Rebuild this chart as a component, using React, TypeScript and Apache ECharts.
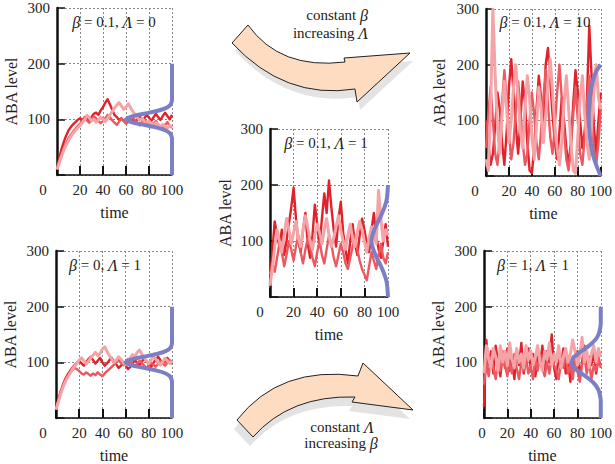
import React, { useEffect, useRef } from "react";
import * as echarts from "echarts";

const FONT = '"Liberation Serif", "DejaVu Serif", serif';
const RED_DARK = "#e2212a";
const RED_MID = "#ec5860";
const RED_LIGHT = "#f4a3a7";
const BLUE = "#7b7fc4";

const times = [0,2,4,6,8,10,12,14,16,18,20,22,24,26,28,30,32,34,36,38,40,42,44,46,48,50,52,54,56,58,60,62,64,66,68,70,72,74,76,78,80,82,84,86,88,90,92,94,96,98,100];
const xTicks = [0, 20, 40, 60, 80, 100];
const yTicks = [100, 200, 300];

// panel A: beta = 0.1, Lambda = 0
const aDark = [10,30,47,60,71,80,86,91,95,99,102,98,104,101,96,104,110,112,108,116,122,130,136,127,117,108,104,99,102,97,100,96,103,99,94,100,105,98,102,108,103,97,104,110,104,99,106,112,106,100,108];
const aMid = [10,24,37,49,58,66,72,78,83,88,92,97,103,98,94,99,105,102,97,93,97,102,108,104,98,94,90,96,101,97,92,95,100,104,98,93,89,94,99,95,90,86,92,97,91,87,84,90,95,88,85];
const aLight = [10,22,34,45,54,62,69,75,80,85,89,94,99,107,103,97,100,95,99,104,100,96,102,108,114,120,126,130,124,118,122,128,121,114,108,103,98,102,96,92,97,93,88,94,90,86,91,87,84,89,86];
const aBlue = [[100,0],[100,65],[99.5,70],[98.2,75],[94.6,80],[87,85],[75.7,90],[64.7,95],[60,100],[64.7,105],[75.7,110],[87,115],[94.6,120],[98.2,125],[99.5,130],[100,135],[100,200]];

// panel B: beta = 0.1, Lambda = 10
const bDark = [100,60,20,40,90,150,120,60,20,80,160,210,150,90,40,100,170,130,60,10,5,50,120,180,140,90,200,230,170,110,60,30,80,140,100,50,20,60,130,190,150,100,50,80,140,270,180,90,40,100,150];
const bMid = [50,110,160,100,40,20,70,130,190,140,80,30,60,120,170,120,60,20,40,100,150,110,60,30,80,140,190,130,70,40,90,150,200,140,80,30,10,50,110,160,100,40,20,70,130,180,110,50,20,60,120];
const bLight = [30,10,120,300,180,90,40,110,170,120,60,100,160,200,140,80,50,120,180,140,70,30,90,160,120,60,110,170,210,150,90,50,20,60,130,180,120,60,10,5,70,140,180,110,60,30,90,150,200,140,120];
const bBlue = [[100,0],[96,20],[93,40],[90.5,70],[89.5,110],[90.5,145],[93,170],[96,188],[100,200]];

// panel C: beta = 0.1, Lambda = 1
const cDark = [25,80,135,110,90,120,75,100,130,160,195,140,100,80,120,150,95,70,110,165,130,90,140,185,150,208,160,120,90,140,170,115,85,60,100,130,95,75,110,140,120,95,80,120,150,110,85,70,100,130,90];
const cMid = [40,60,45,70,95,80,55,75,100,85,65,90,110,80,60,85,105,90,70,55,80,100,75,60,85,110,95,70,55,75,95,80,60,50,70,90,110,85,65,50,40,30,55,80,65,50,75,95,70,60,80];
const cLight = [20,50,90,120,100,80,110,140,120,95,115,135,105,90,120,145,125,100,85,110,130,115,95,120,140,110,90,105,125,145,120,100,85,110,130,105,90,115,135,120,100,80,105,125,110,95,190,140,100,120,110];
const cBlue = [[100,0],[99,25],[97,40],[94,55],[90.5,70],[87.5,85],[86,100],[87.5,115],[90.5,130],[94,145],[97,160],[99,175],[100,200]];

// panel D: beta = 0, Lambda = 1
const dDark = [15,33,48,60,70,78,84,90,95,99,102,98,94,100,106,110,104,98,103,108,100,94,98,104,108,102,96,90,94,99,95,88,92,98,104,99,95,101,107,102,97,92,99,105,110,104,98,102,108,101,97];
const dMid = [15,30,45,57,66,74,80,86,90,88,84,80,78,82,79,76,80,77,82,78,75,80,84,88,92,96,100,104,99,95,100,106,102,97,93,98,103,99,94,90,95,100,96,92,97,102,98,94,99,104,100];
const dLight = [15,29,43,55,65,73,80,87,93,98,104,108,103,97,102,108,113,118,112,116,124,128,120,112,106,100,104,110,106,100,96,102,108,114,110,118,122,115,108,103,98,104,110,106,100,95,101,107,103,98,102];
const dBlue = [[100,0],[100,65],[99.5,70],[98.2,75],[94.6,80],[87,85],[75.7,90],[64.7,95],[60,100],[64.7,105],[75.7,110],[87,115],[94.6,120],[98.2,125],[99.5,130],[100,135],[100,200]];

// panel E: beta = 1, Lambda = 1
const eDark = [20,140,95,120,80,130,100,75,115,90,125,85,110,70,120,95,135,80,105,125,90,115,75,110,95,130,85,120,100,150,90,70,115,95,125,80,105,65,110,90,120,75,100,130,85,110,95,120,80,105,95];
const eMid = [60,100,75,110,90,70,105,85,120,95,75,100,80,115,90,70,100,85,110,80,95,70,105,85,115,90,75,100,80,110,95,85,70,100,90,115,80,95,70,105,85,65,95,110,80,100,70,95,85,110,90];
const eLight = [80,130,105,90,125,110,85,130,100,120,95,135,105,90,125,100,115,90,130,105,120,95,110,130,100,85,120,105,135,95,115,100,130,90,110,125,100,115,140,120,95,110,145,100,120,90,115,130,100,125,110];
const eBlue = [[100,0],[100,30],[99.4,40],[98.1,50],[95.2,60],[90.1,70],[83.5,80],[77.4,90],[75,100],[77.4,110],[83.5,120],[90.1,130],[95.2,140],[98.1,150],[99.4,160],[100,170],[100,200]];

const panelLabels = [
  "{i|β} = 0.1, {i|Λ} = 0",
  "{i|β} = 0.1, {i|Λ} = 10",
  "{i|β} = 0.1, {i|Λ} = 1",
  "{i|β} = 0, {i|Λ} = 1",
  "{i|β} = 1, {i|Λ} = 1",
];

const panels = [
  { grid: { left: 57, top: 8, width: 115, height: 167 }, reds: [aDark, aMid, aLight], blue: aBlue, zeroShift: 28, label: [114, 22], nameGap: 38 },
  { grid: { left: 486, top: 9, width: 115, height: 167 }, reds: [bDark, bMid, bLight], blue: bBlue, zeroShift: 22, label: [545, 22], nameGap: 39 },
  { grid: { left: 270, top: 129, width: 118, height: 168 }, reds: [cDark, cMid, cLight], blue: cBlue, zeroShift: 20, label: [326, 143], nameGap: 37 },
  { grid: { left: 56, top: 251, width: 116, height: 167 }, reds: [dDark, dMid, dLight], blue: dBlue, zeroShift: 26, label: [105, 265], nameGap: 38 },
  { grid: { left: 484, top: 251, width: 118, height: 167 }, reds: [eDark, eMid, eLight], blue: eBlue, zeroShift: 4, label: [533, 265], nameGap: 38 },
];

const ARROW_TOP = "M 248 25 Q 280 70 345 62 L 344 58 L 410 53 L 357 102 L 355 89 Q 285 100 232 43 Z";
const ARROW_BOTTOM = "M 237 420 Q 280 365 358 376 L 363 363 L 413 410 L 352 402 L 355 397 Q 290 395 253 437 Z";

export default function App() {
  const ref = useRef<HTMLDivElement>(null);
  useEffect(() => {
    document.body.style.margin = "0";
    if (!ref.current) return;
    echarts.graphic.registerShape("arrowTop", echarts.graphic.extendPath(ARROW_TOP, {}) as any);
    echarts.graphic.registerShape("arrowBottom", echarts.graphic.extendPath(ARROW_BOTTOM, {}) as any);
    const chart = echarts.init(ref.current, null, { renderer: "svg" });

    const textStyle = { fontFamily: FONT, fontSize: 15, color: "#222" };
    const redColors = [RED_DARK, RED_MID, RED_LIGHT];
    const redWidths = [2.4, 2.4, 3];

    const grid = panels.map((p) => ({ ...p.grid, containLabel: false }));
    const xAxis = panels.map((p, i) => ({
      gridIndex: i,
      type: "value",
      min: 0,
      max: 100,
      interval: 20,
      name: "time",
      nameLocation: "middle",
      nameGap: 29,
      nameTextStyle: { ...textStyle, fontSize: 16 },
      axisLine: { show: true, onZero: false, lineStyle: { color: "#111", width: 1.5 } },
      axisTick: { show: true, inside: true, length: 9, lineStyle: { color: "#111", width: 2 } },
      splitLine: { show: true, lineStyle: { type: [2, 2], color: "#888", width: 1 } },
      axisLabel: {
        ...textStyle,
        margin: 7,
        customValues: xTicks,
        formatter: (v: number) => (v === 0 ? "{z|0}" : String(v)),
        rich: { z: { ...textStyle, padding: [0, p.zeroShift, 0, 0] } },
      },
    }));
    const yAxis = panels.map((p, i) => ({
      gridIndex: i,
      type: "value",
      min: 0,
      max: 300,
      interval: 100,
      name: "ABA level",
      nameLocation: "middle",
      nameGap: p.nameGap,
      nameTextStyle: { ...textStyle, fontSize: 16 },
      axisLine: { show: true, onZero: false, lineStyle: { color: "#111", width: 2.5 } },
      axisTick: { show: true, inside: true, length: 8, lineStyle: { color: "#111", width: 1.5 } },
      splitLine: { show: true, lineStyle: { type: [2, 2], color: "#888", width: 1 } },
      axisLabel: {
        ...textStyle,
        margin: 7,
        formatter: (v: number) => (yTicks.includes(v) ? String(v) : ""),
      },
    }));

    const series: any[] = [];
    panels.forEach((p, i) => {
      p.reds.forEach((vals, k) => {
        series.push({
          type: "line",
          xAxisIndex: i,
          yAxisIndex: i,
          data: times.map((t, j) => [t, vals[j]]),
          showSymbol: false,
          symbol: "none",
          lineStyle: { color: redColors[k], width: redWidths[k], join: "round" },
          silent: true,
        });
      });
      series.push({
        type: "line",
        xAxisIndex: i,
        yAxisIndex: i,
        data: p.blue,
        symbol: "none",
        smooth: 0.3,
        clip: false,
        lineStyle: { color: BLUE, width: 4 },
        silent: true,
        z: 5,
      });
    });

    const italic = { i: { fontFamily: FONT, fontSize: 16, fontStyle: "italic", fill: "#222" } };
    const graphic: any[] = [
      { type: "arrowTop", x: 3, y: 8, style: { fill: "#e3e3e3" }, z: 0 },
      { type: "arrowTop", x: 0, y: 0, style: { fill: "#fddcc1", stroke: "#222", lineWidth: 1 }, z: 1 },
      { type: "arrowBottom", x: -3, y: 9, style: { fill: "#e3e3e3" }, z: 0 },
      { type: "arrowBottom", x: 0, y: 0, style: { fill: "#fddcc1", stroke: "#222", lineWidth: 1 }, z: 1 },
      {
        type: "text", x: 368, y: 15, z: 2,
        style: { text: "constant {i|β}", rich: italic, fontFamily: FONT, fontSize: 15, fill: "#222", align: "right", textAlign: "right", verticalAlign: "middle", textVerticalAlign: "middle" },
      },
      {
        type: "text", x: 368, y: 33, z: 2,
        style: { text: "increasing {i|Λ}", rich: italic, fontFamily: FONT, fontSize: 15, fill: "#222", align: "right", textAlign: "right", verticalAlign: "middle", textVerticalAlign: "middle" },
      },
      {
        type: "text", x: 342, y: 427, z: 2,
        style: { text: "constant {i|Λ}", rich: italic, fontFamily: FONT, fontSize: 15, fill: "#222", align: "center", textAlign: "center", verticalAlign: "middle", textVerticalAlign: "middle" },
      },
      {
        type: "text", x: 341, y: 443, z: 2,
        style: { text: "increasing {i|β}", rich: italic, fontFamily: FONT, fontSize: 15, fill: "#222", align: "center", textAlign: "center", verticalAlign: "middle", textVerticalAlign: "middle" },
      },
    ];
    panels.forEach((p, i) => {
      graphic.push({
        type: "text", x: p.label[0], y: p.label[1], z: 10,
        style: {
          text: panelLabels[i],
          rich: italic,
          fontFamily: FONT, fontSize: 15, fill: "#222",
          align: "center", textAlign: "center", verticalAlign: "middle", textVerticalAlign: "middle",
        },
      });
    });

    chart.setOption({
      animation: false,
      backgroundColor: "#ffffff",
      grid,
      xAxis,
      yAxis,
      series,
      graphic,
    } as any);
    return () => chart.dispose();
  }, []);
  return <div ref={ref} style={{ width: 615, height: 464 }} />;
}
